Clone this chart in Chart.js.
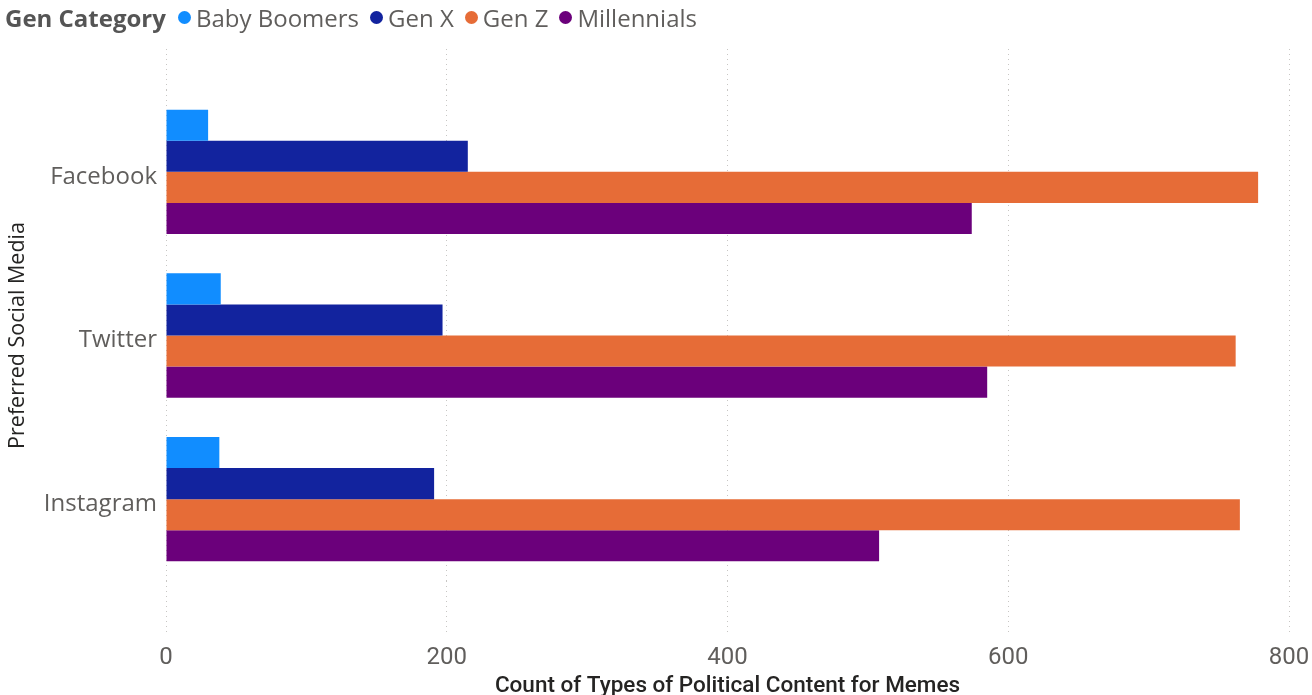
<!DOCTYPE html>
<html>
<head>
<meta charset="utf-8">
<script src="https://cdn.jsdelivr.net/npm/chart.js@4.4.1/dist/chart.umd.min.js"></script>
<style>
  html,body{margin:0;padding:0;background:#fff;}
  #wrap{position:relative;width:1312px;height:695px;overflow:hidden;}
  #legend{position:absolute;left:5px;top:0px;height:34px;display:flex;align-items:center;font-family:"Open Sans",sans-serif;font-size:24px;color:#605E5C;white-space:nowrap;}
  #legend .title{font-weight:bold;color:#555;margin-right:12px;}
  #legend .item{display:flex;align-items:center;margin-right:11px;}
  #legend .dot{width:13px;height:13px;border-radius:50%;margin-right:5px;}
</style>
</head>
<body>
<div id="wrap">
  <canvas id="c" width="1312" height="695"></canvas>
  <div id="legend"></div>
</div>
<script>
const categories = ["Facebook", "Twitter", "Instagram"];
const seriesNames = ["Baby Boomers", "Gen X", "Gen Z", "Millennials"];
const babyBoomers = [30, 39, 38];
const genX = [215, 197, 191];
const genZ = [778, 762, 765];
const millennials = [574, 585, 508];
const xTicks = [0, 200, 400, 600, 800];
const colors = ["#118DFF", "#12239E", "#E66C37", "#6B007B"];

const seriesValues = [babyBoomers, genX, genZ, millennials];

// HTML legend
const lg = document.getElementById('legend');
const t = document.createElement('span'); t.className = 'title'; t.textContent = 'Gen Category'; lg.appendChild(t);
seriesNames.forEach((n, i) => {
  const it = document.createElement('span'); it.className = 'item';
  const d = document.createElement('span'); d.className = 'dot'; d.style.background = colors[i];
  const s = document.createElement('span'); s.textContent = n;
  it.appendChild(d); it.appendChild(s); lg.appendChild(it);
});

const gridColor = '#C8C6C4';
new Chart(document.getElementById('c'), {
  type: 'bar',
  data: {
    labels: categories,
    datasets: seriesNames.map((n, i) => ({
      label: n,
      data: seriesValues[i],
      backgroundColor: colors[i],
      borderWidth: 0,
      categoryPercentage: 0.76,
      barPercentage: 1.0
    }))
  },
  options: {
    indexAxis: 'y',
    responsive: false,
    animation: false,
    devicePixelRatio: 1,
    layout: { padding: { top: 49, right: 23, bottom: 0, left: 0 } },
    plugins: { legend: { display: false }, tooltip: { enabled: false } },
    scales: {
      x: {
        type: 'linear', position: 'bottom', min: 0, max: 800,
        afterBuildTicks: (s) => { s.ticks = xTicks.map(v => ({ value: v })); },
        afterFit: (s) => { s.height = 114; s.paddingLeft = 0; s.paddingRight = 0; },
        grid: { color: gridColor, lineWidth: 1, drawTicks: true, tickLength: 52, tickColor: gridColor, tickBorderDash: [1, 4], tickWidth: 1 },
        border: { display: false, dash: [1, 4] },
        ticks: { padding: 11, color: '#605E5C', font: { family: 'Roboto', size: 24 } },
        title: { display: true, text: 'Count of Types of Political Content for Memes', color: '#252423', font: { family: 'Roboto', size: 22.5, weight: '500', lineHeight: 0.8 }, padding: { top: 0, bottom: 0 } }
      },
      x2: {
        type: 'linear', position: 'top', min: 0, max: 800,
        afterBuildTicks: (s) => { s.ticks = xTicks.map(v => ({ value: v })); },
        afterFit: (s) => { s.height = 41; s.paddingLeft = 0; s.paddingRight = 0; },
        grid: { drawOnChartArea: false, drawTicks: true, tickLength: 41, tickColor: gridColor, tickBorderDash: [1, 4], tickWidth: 1, color: gridColor },
        border: { display: false },
        ticks: { display: false }
      },
      y: {
        type: 'category', offset: true,
        afterFit: (s) => { s.width = 166; },
        grid: { display: false, drawTicks: false },
        border: { display: false },
        ticks: { padding: 9, labelOffset: 5, color: '#605E5C', font: { family: 'Open Sans', size: 24 } },
        title: { display: true, text: 'Preferred Social Media', color: '#252423', font: { family: 'Open Sans', size: 21.5 }, padding: { top: 5, bottom: 0 } }
      }
    }
  }
});
</script>
</body>
</html>
